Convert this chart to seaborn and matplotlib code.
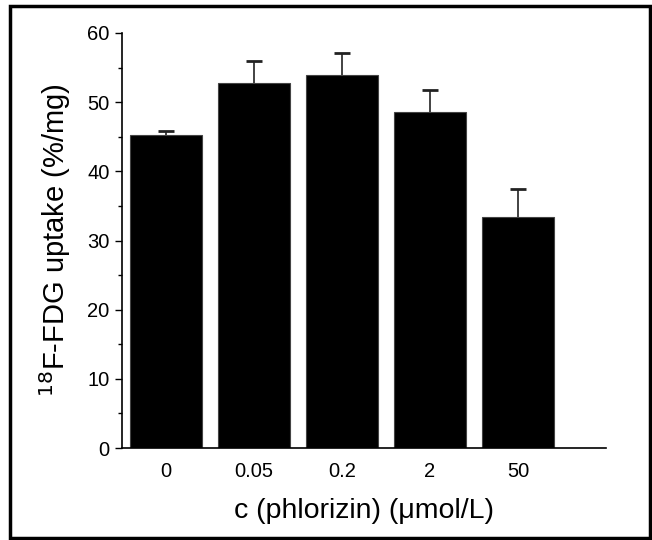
import matplotlib
matplotlib.use("Agg")
import matplotlib.pyplot as plt
import seaborn as sns
import pandas as pd
from matplotlib.patches import Rectangle
from matplotlib.ticker import MultipleLocator

categories = ["0", "0.05", "0.2", "2", "50"]
uptake = [45.3, 52.8, 53.9, 48.6, 33.4]
errors = [0.6, 3.1, 3.2, 3.1, 4.0]

sns.set_style("ticks")
plt.rcParams['font.family'] = ['Liberation Sans', 'DejaVu Sans']
plt.rcParams['text.color'] = 'black'
plt.rcParams['axes.labelcolor'] = 'black'
plt.rcParams['xtick.color'] = 'black'
plt.rcParams['ytick.color'] = 'black'

df = pd.DataFrame({"c": categories, "uptake": uptake})

fig = plt.figure(figsize=(6.52, 5.40), dpi=100)
ax = fig.add_axes([122/652, 1-448/540, (606-122)/652, (448-33)/540])

sns.barplot(data=df, x="c", y="uptake", color="black", width=0.82,
            edgecolor="#444444", linewidth=0.8, ax=ax, errorbar=None, saturation=1)
eb = ax.errorbar(range(len(categories)), uptake, yerr=[[0]*len(errors), errors],
                 fmt="none", ecolor="#222222", elinewidth=1.2, capsize=5.5, capthick=2)
# keep only the upper caps
caplines = eb[1]
if len(caplines) == 2:
    caplines[0].set_visible(False)

ax.set_xlim(-0.5, 5.0)
ax.set_ylim(0, 60)
ax.yaxis.set_major_locator(MultipleLocator(10))
ax.yaxis.set_minor_locator(MultipleLocator(5))
ax.tick_params(axis='y', which='major', length=5, width=1, labelsize=14.5, pad=4,
               color='black', labelcolor='black')
ax.tick_params(axis='y', which='minor', length=3, width=1, color='black')
ax.tick_params(axis='x', length=0, labelsize=14.5, pad=10, labelcolor='black')
for s in ["top", "right"]:
    ax.spines[s].set_visible(False)
for s in ["left", "bottom"]:
    ax.spines[s].set_linewidth(1.2)
    ax.spines[s].set_color("black")

ax.set_xlabel("c (phlorizin) (\u03bcmol/L)", fontsize=20.5, labelpad=12, color='black')
ax.set_ylabel("$^{18}$F-FDG uptake (%/mg)", fontsize=21, labelpad=10, color='black')

fig.patches.append(Rectangle((10/652, 1-538/540), (650-10)/652, (538-6)/540,
                             transform=fig.transFigure, fill=False,
                             edgecolor="black", linewidth=2.5))

fig.savefig("out.png", dpi=100)
